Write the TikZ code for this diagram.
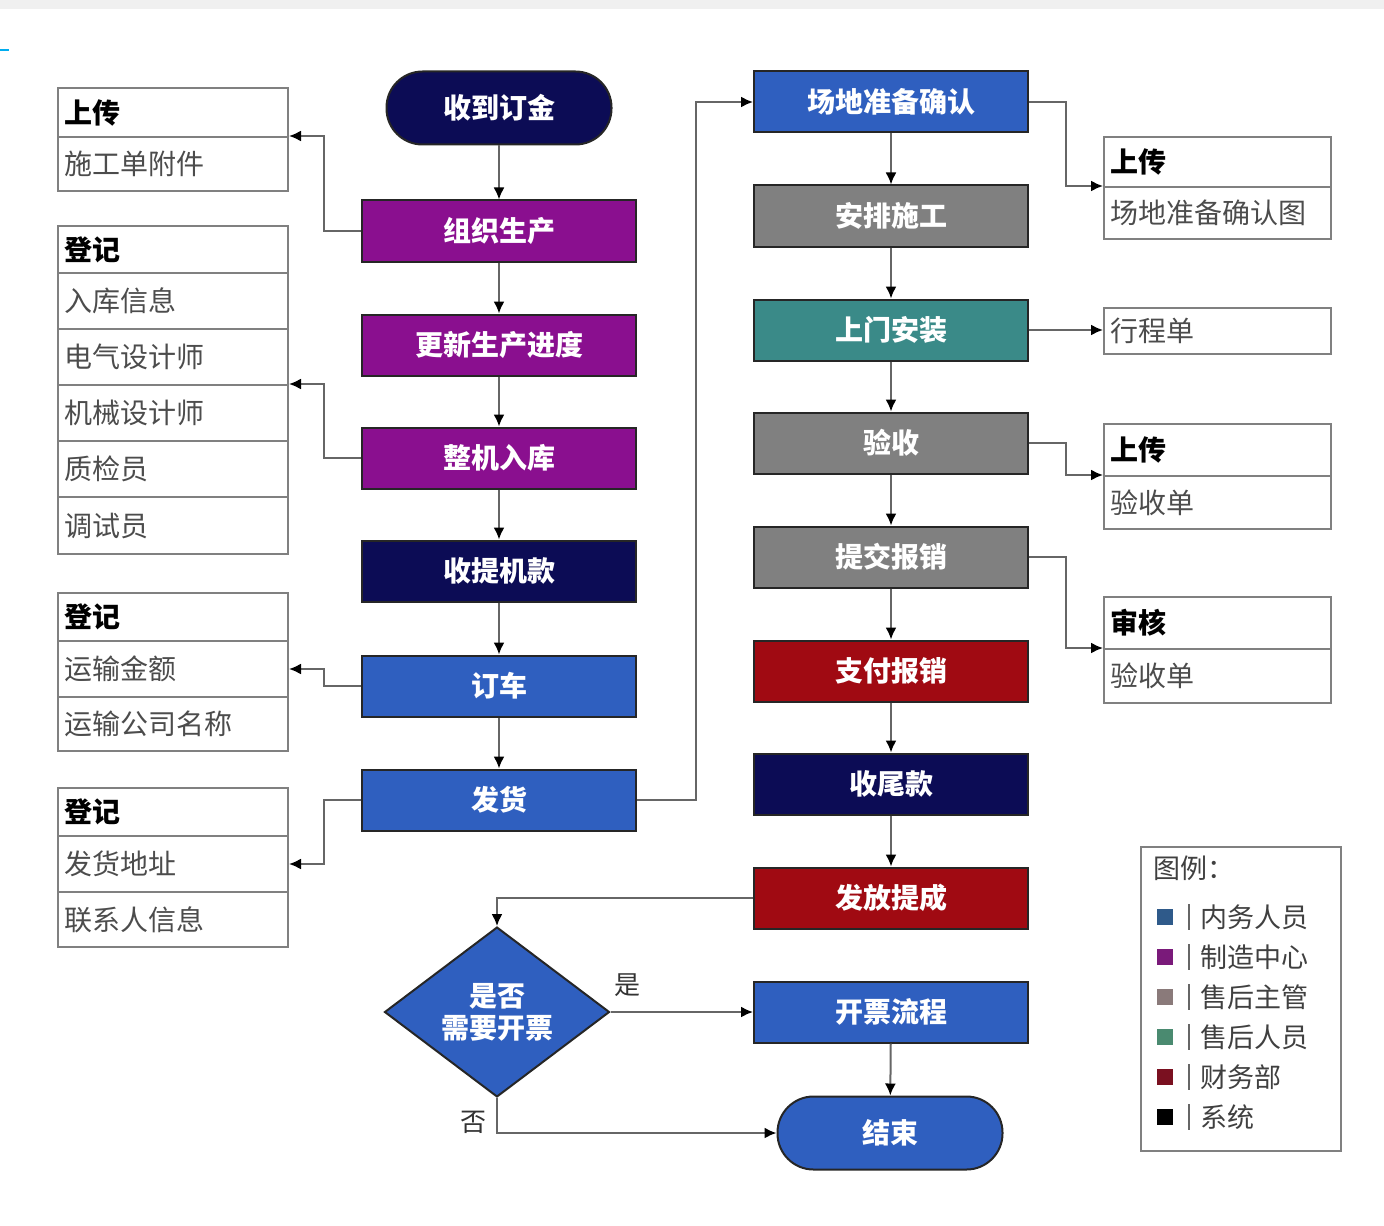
\documentclass[tikz,border=0pt]{standalone}
\usepackage{fontspec}
\setmainfont{Noto Sans CJK SC}
\usetikzlibrary{shapes.geometric,arrows.meta}
\definecolor{cnavy}{HTML}{0C0C55}
\definecolor{cpurple}{HTML}{8A0F8F}
\definecolor{cblue}{HTML}{2F5FBF}
\definecolor{cgray}{HTML}{808080}
\definecolor{cteal}{HTML}{3A8A88}
\definecolor{cred}{HTML}{A00A12}
\definecolor{lgblue}{HTML}{2F5A8A}
\definecolor{lgpurple}{HTML}{7A1A7A}
\definecolor{lggray}{HTML}{8A7A7A}
\definecolor{lgteal}{HTML}{4A8A70}
\definecolor{lgred}{HTML}{7A1020}
\tikzset{
  proc/.style={rectangle, draw=black!85, line width=1pt, minimum width=137pt, minimum height=30.5pt, inner sep=0pt, text=white, font=\fontsize{14}{16}\selectfont\bfseries},
  term/.style={proc, rounded corners=18pt, minimum width=112.5pt, minimum height=36.5pt},
  row/.style={rectangle, draw=black!50, line width=1pt, text width=109pt, inner xsep=3pt, inner ysep=0pt, align=left, anchor=north west, font=\fontsize{14}{16}\selectfont, text=black!70},
  hrow/.style={row, font=\fontsize{14}{16}\selectfont\bfseries, text=black},
  rrow/.style={row, text width=107.5pt},
  rhrow/.style={hrow, text width=107.5pt},
  arr/.style={draw=black!60, line width=1pt, -{Latex[length=6pt,width=5.5pt,color=black]}},
  lbl/.style={font=\fontsize{13}{15}\selectfont, text=black!80, inner sep=1pt},
  legtxt/.style={anchor=west, font=\fontsize{13.5}{15}\selectfont, text=black!75, inner sep=0pt},
  legsq/.style={rectangle, minimum size=8pt, inner sep=0pt}
}
\begin{document}
\begin{tikzpicture}[x=0.5pt,y=-0.5pt]
\useasboundingbox (0,0) rectangle (1384,1225);
\fill[black!6] (0,0) rectangle (1384,9);
\draw[cyan, line width=1pt] (0,50) -- (9,50);

% left column
\node[term, fill=cnavy] (sddj) at (499,108) {收到订金};
\node[proc, fill=cpurple] (zzsc) at (499,231) {组织生产};
\node[proc, fill=cpurple] (gxjd) at (499,345) {更新生产进度};
\node[proc, fill=cpurple] (zjrk) at (499,458) {整机入库};
\node[proc, fill=cnavy] (stjk) at (499,571) {收提机款};
\node[proc, fill=cblue] (dc) at (499,686) {订车};
\node[proc, fill=cblue] (fh) at (499,800) {发货};

% right column
\node[proc, fill=cblue] (cdzb) at (891,102) {场地准备确认};
\node[proc, fill=cgray] (apsg) at (891,216) {安排施工};
\node[proc, fill=cteal] (smaz) at (891,330) {上门安装};
\node[proc, fill=cgray] (ys) at (891,443) {验收};
\node[proc, fill=cgray] (tjbx) at (891,557) {提交报销};
\node[proc, fill=cred] (zfbx) at (891,671) {支付报销};
\node[proc, fill=cnavy] (swk) at (891,784) {收尾款};
\node[proc, fill=cred] (fftc) at (891,898) {发放提成};
\node[diamond, draw=black!85, line width=1pt, fill=cblue, minimum width=112.5pt, minimum height=80pt, inner sep=0pt, text=white, align=center, font=\fontsize{14}{16}\selectfont\bfseries] (dec) at (497,1012) {是否\\需要开票};
\node[proc, fill=cblue] (kplc) at (891,1012) {开票流程};
\node[term, fill=cblue] (js) at (890,1133) {结束};

% left tables
\node[hrow, minimum height=24.5pt] (t1a) at (57,87) {上传};
\node[row, minimum height=27pt] (t1b) at (57,136) {施工单附件};

\node[hrow, minimum height=23.5pt] (t2a) at (57,225) {登记};
\node[row, minimum height=28pt] (t2b) at (57,272) {入库信息};
\node[row, minimum height=28pt] (t2c) at (57,328) {电气设计师};
\node[row, minimum height=28pt] (t2d) at (57,384) {机械设计师};
\node[row, minimum height=28pt] (t2e) at (57,440) {质检员};
\node[row, minimum height=28.5pt] (t2f) at (57,496) {调试员};

\node[hrow, minimum height=24pt] (t3a) at (57,592) {登记};
\node[row, minimum height=28pt] (t3b) at (57,640) {运输金额};
\node[row, minimum height=27pt] (t3c) at (57,696) {运输公司名称};

\node[hrow, minimum height=24pt] (t4a) at (57,787) {登记};
\node[row, minimum height=28pt] (t4b) at (57,835) {发货地址};
\node[row, minimum height=27.5pt] (t4c) at (57,891) {联系人信息};

% right tables
\node[rhrow, minimum height=25pt] (rAa) at (1103,136) {上传};
\node[rrow, minimum height=26pt] (rAb) at (1103,186) {场地准备确认图};
\node[rrow, minimum height=23pt] (rB) at (1103,307) {行程单};
\node[rhrow, minimum height=26pt] (rCa) at (1103,423) {上传};
\node[rrow, minimum height=26.5pt] (rCb) at (1103,475) {验收单};
\node[rhrow, minimum height=26pt] (rDa) at (1103,596) {审核};
\node[rrow, minimum height=27pt] (rDb) at (1103,648) {验收单};

% main flow
\draw[arr] (sddj) -- (zzsc);
\draw[arr] (zzsc) -- (gxjd);
\draw[arr] (gxjd) -- (zjrk);
\draw[arr] (zjrk) -- (stjk);
\draw[arr] (stjk) -- (dc);
\draw[arr] (dc) -- (fh);
\draw[arr] (fh.east) -- ++(59,0) |- (cdzb.west);
\draw[arr] (cdzb) -- (apsg);
\draw[arr] (apsg) -- (smaz);
\draw[arr] (smaz) -- (ys);
\draw[arr] (ys) -- (tjbx);
\draw[arr] (tjbx) -- (zfbx);
\draw[arr] (zfbx) -- (swk);
\draw[arr] (swk) -- (fftc);
\draw[arr] (fftc.west) -| (dec.north);
\draw[arr] (dec.east) -- node[lbl, pos=0.12, above=6pt] {是} (kplc.west);
\draw[arr] (kplc) -- (js);
\draw[arr] (dec.south) |- node[lbl, pos=0.35, left=4pt] {否} (js.west);

% side arrows
\draw[arr] (zzsc.west) -- ++(-37,0) |- (t1b.north east);
\draw[arr] (zjrk.west) -- ++(-37,0) |- (t2d.north east);
\draw[arr] (dc.west) -- ++(-37,0) |- (t3b.east);
\draw[arr] (fh.west) -- ++(-37,0) |- (t4b.east);
\draw[arr] (cdzb.east) -- ++(37,0) |- (rAb.north west);
\draw[arr] (smaz.east) -- (smaz.east -| rB.west);
\draw[arr] (ys.east) -- ++(37,0) |- (rCb.north west);
\draw[arr] (tjbx.east) -- ++(37,0) |- (rDb.north west);

% legend
\node[draw=black!50, line width=1.2pt, minimum width=100pt, minimum height=152pt, inner sep=0pt, anchor=north west] (leg) at (1140,846) {};
\node[legtxt] (legt) at (1153,868) {图例：};
\node[legsq, fill=lgblue] (s1) at (1165,917) {};
\node[legtxt] (l1) at (1200,917) {内务人员};
\node[legsq, fill=lgpurple] (s2) at (1165,957) {};
\node[legtxt] (l2) at (1200,957) {制造中心};
\node[legsq, fill=lggray] (s3) at (1165,997) {};
\node[legtxt] (l3) at (1200,997) {售后主管};
\node[legsq, fill=lgteal] (s4) at (1165,1037) {};
\node[legtxt] (l4) at (1200,1037) {售后人员};
\node[legsq, fill=lgred] (s5) at (1165,1077) {};
\node[legtxt] (l5) at (1200,1077) {财务部};
\node[legsq, fill=black] (s6) at (1165,1117) {};
\node[legtxt] (l6) at (1200,1117) {系统};
\foreach \yy in {917,957,997,1037,1077,1117}
  \draw[black!60, line width=1.2pt] (1189,\yy-13) -- (1189,\yy+13);
\end{tikzpicture}
\end{document}
